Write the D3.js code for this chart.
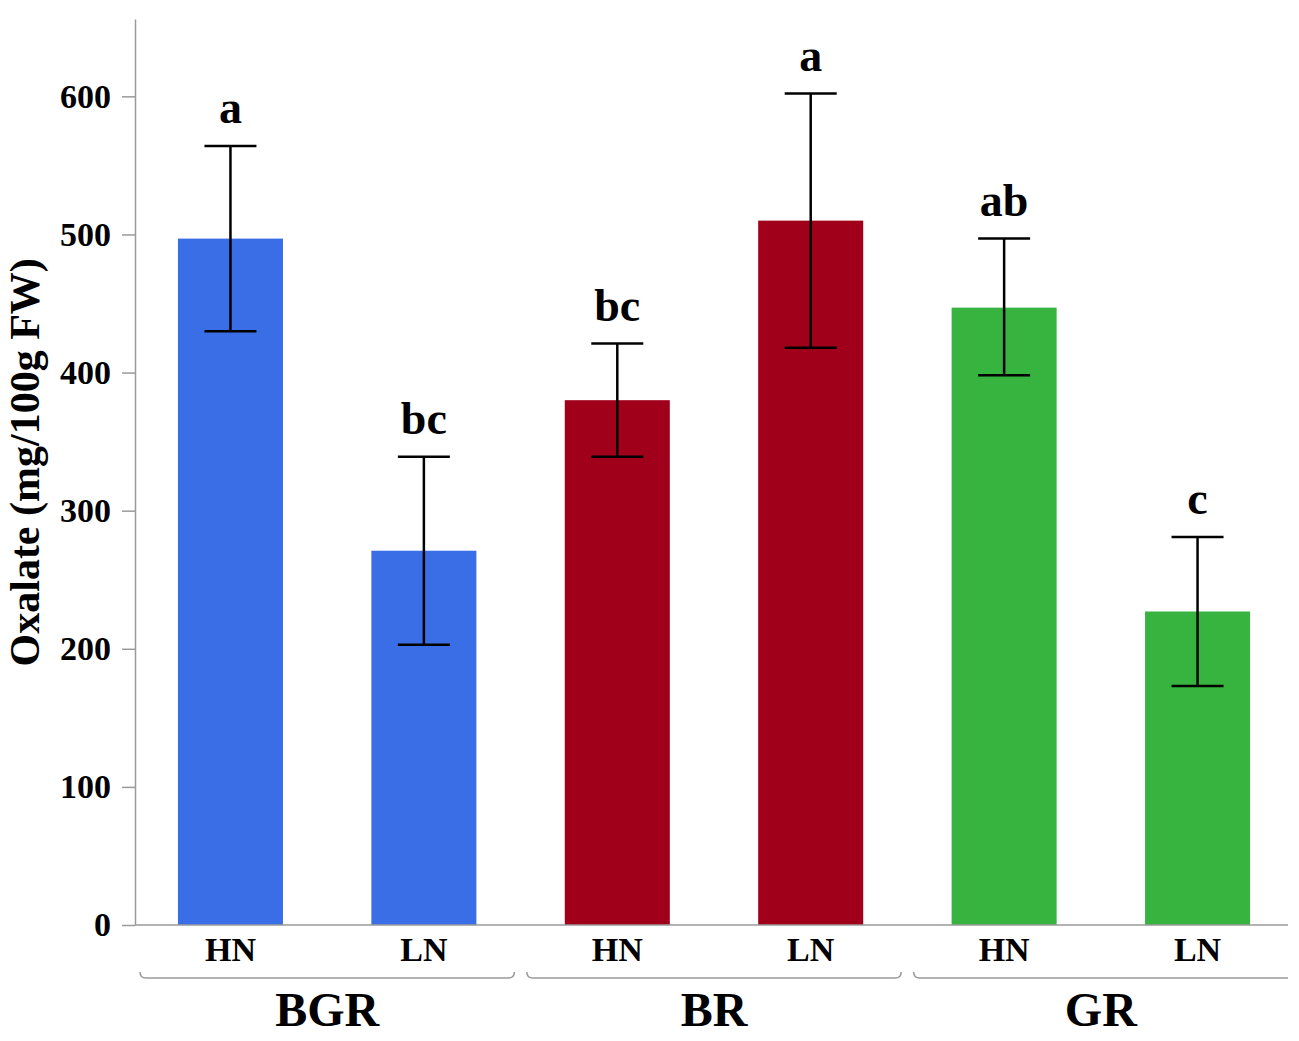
<!DOCTYPE html>
<html>
<head>
<meta charset="utf-8">
<script src="https://cdn.jsdelivr.net/npm/d3@7"></script>
<style>
  body { margin: 0; background: #fff; }
  text { font-family: "Liberation Serif", "Times New Roman", serif; font-weight: bold; fill: #000; }
</style>
</head>
<body>
<div id="wrapper"></div>
<script>
// data
const groups = ['BGR', 'BR', 'GR'];
const treatments = ['HN', 'LN'];
const means = [497, 271, 380, 510, 447, 227];
const lowers = [430, 203, 339, 418, 398, 173];
const uppers = [564, 339, 421, 602, 497, 281];
const letters = ['a', 'bc', 'bc', 'a', 'ab', 'c'];
const groupColors = ['#3a6ee6', '#a1001b', '#36b43f'];
const yTicks = [0, 100, 200, 300, 400, 500, 600];

const rows = [];
groups.forEach((g, gi) => treatments.forEach((t, ti) => {
  const i = gi * treatments.length + ti;
  rows.push({
    key: g + '-' + t, group: g, treatment: t, gi,
    mean: means[i], lo: lowers[i], hi: uppers[i], letter: letters[i]
  });
}));

// dimensions
let dimensions = {
  width: 1299,
  height: 1041,
  margin: { top: 19, right: 6, bottom: 116, left: 135 }
};
dimensions.boundedWidth = dimensions.width - dimensions.margin.left - dimensions.margin.right;
dimensions.boundedHeight = dimensions.height - dimensions.margin.top - dimensions.margin.bottom;

const wrapper = d3.select('#wrapper')
  .append('svg')
  .attr('width', dimensions.width)
  .attr('height', dimensions.height);

const bounds = wrapper.append('g')
  .attr('transform', `translate(${dimensions.margin.left},${dimensions.margin.top})`);

// scales
const xScale = d3.scaleBand()
  .domain(rows.map(d => d.key))
  .range([0, 1158])
  .paddingInner(0.457)
  .paddingOuter(0.222);

const yScale = d3.scaleLinear()
  .domain([0, 656])
  .range([dimensions.boundedHeight, 0]);

// bars
bounds.selectAll('rect.bar')
  .data(rows)
  .join('rect')
  .attr('class', 'bar')
  .attr('x', d => xScale(d.key))
  .attr('width', xScale.bandwidth())
  .attr('y', d => yScale(d.mean))
  .attr('height', d => yScale(0) - yScale(d.mean))
  .attr('fill', d => groupColors[d.gi]);

// axes
const yAxis = bounds.append('g')
  .call(d3.axisLeft(yScale).tickValues(yTicks).tickSize(13).tickPadding(11).tickSizeOuter(0));
yAxis.select('.domain').attr('stroke', '#9a9a9a').attr('stroke-width', 1.5);
yAxis.selectAll('.tick line').attr('stroke', '#9a9a9a').attr('stroke-width', 1.5);
yAxis.selectAll('.tick text').style('font-size', '34px');

bounds.append('line')
  .attr('x1', 0)
  .attr('x2', 1153)
  .attr('y1', yScale(0))
  .attr('y2', yScale(0))
  .attr('stroke', '#9a9a9a')
  .attr('stroke-width', 1.5);

bounds.selectAll('text.treat')
  .data(rows)
  .join('text')
  .attr('class', 'treat')
  .attr('x', d => xScale(d.key) + xScale.bandwidth() / 2)
  .attr('y', yScale(0) + 36)
  .attr('text-anchor', 'middle')
  .style('font-size', '34px')
  .text(d => d.treatment);

// error bars
const cap = 26;
const err = bounds.append('g').attr('stroke', '#000').attr('stroke-width', 2.5);
err.selectAll('line.stem')
  .data(rows)
  .join('line')
  .attr('x1', d => xScale(d.key) + xScale.bandwidth() / 2)
  .attr('x2', d => xScale(d.key) + xScale.bandwidth() / 2)
  .attr('y1', d => yScale(d.lo))
  .attr('y2', d => yScale(d.hi));
['lo', 'hi'].forEach(k => {
  err.selectAll('line.cap-' + k)
    .data(rows)
    .join('line')
    .attr('x1', d => xScale(d.key) + xScale.bandwidth() / 2 - cap)
    .attr('x2', d => xScale(d.key) + xScale.bandwidth() / 2 + cap)
    .attr('y1', d => yScale(d[k]))
    .attr('y2', d => yScale(d[k]));
});

// significance letters
bounds.selectAll('text.letter')
  .data(rows)
  .join('text')
  .attr('class', 'letter')
  .attr('x', d => xScale(d.key) + xScale.bandwidth() / 2)
  .attr('y', d => yScale(d.hi) - 23)
  .attr('text-anchor', 'middle')
  .style('font-size', '46px')
  .text(d => d.letter);

// group brackets
const step = xScale.step();
const bracketY = yScale(0) + 53;
groups.forEach((g, gi) => {
  const first = xScale(g + '-' + treatments[0]);
  const last = xScale(g + '-' + treatments[treatments.length - 1]) + xScale.bandwidth();
  const x0 = first - xScale.paddingOuter() * step + 5;
  const x1 = last + xScale.paddingOuter() * step - 5;
  const path = d3.path();
  path.moveTo(x0, bracketY - 6);
  path.quadraticCurveTo(x0, bracketY, x0 + 6, bracketY);
  if (gi < groups.length - 1) {
    path.lineTo(x1 - 6, bracketY);
    path.quadraticCurveTo(x1, bracketY, x1, bracketY - 6);
  } else {
    path.lineTo(x1, bracketY);
  }
  bounds.append('path')
    .attr('d', path.toString())
    .attr('fill', 'none')
    .attr('stroke', '#9a9a9a')
    .attr('stroke-width', 1.5);

  bounds.append('text')
    .attr('x', (first + last) / 2)
    .attr('y', bracketY + 48)
    .attr('text-anchor', 'middle')
    .style('font-size', '48px')
    .text(g);
});

// y label
bounds.append('text')
  .attr('transform', `translate(${-dimensions.margin.left + 39},${yScale(335)}) rotate(-90)`)
  .attr('text-anchor', 'middle')
  .style('font-size', '42px')
  .text('Oxalate (mg/100g FW)');
</script>
</body>
</html>
